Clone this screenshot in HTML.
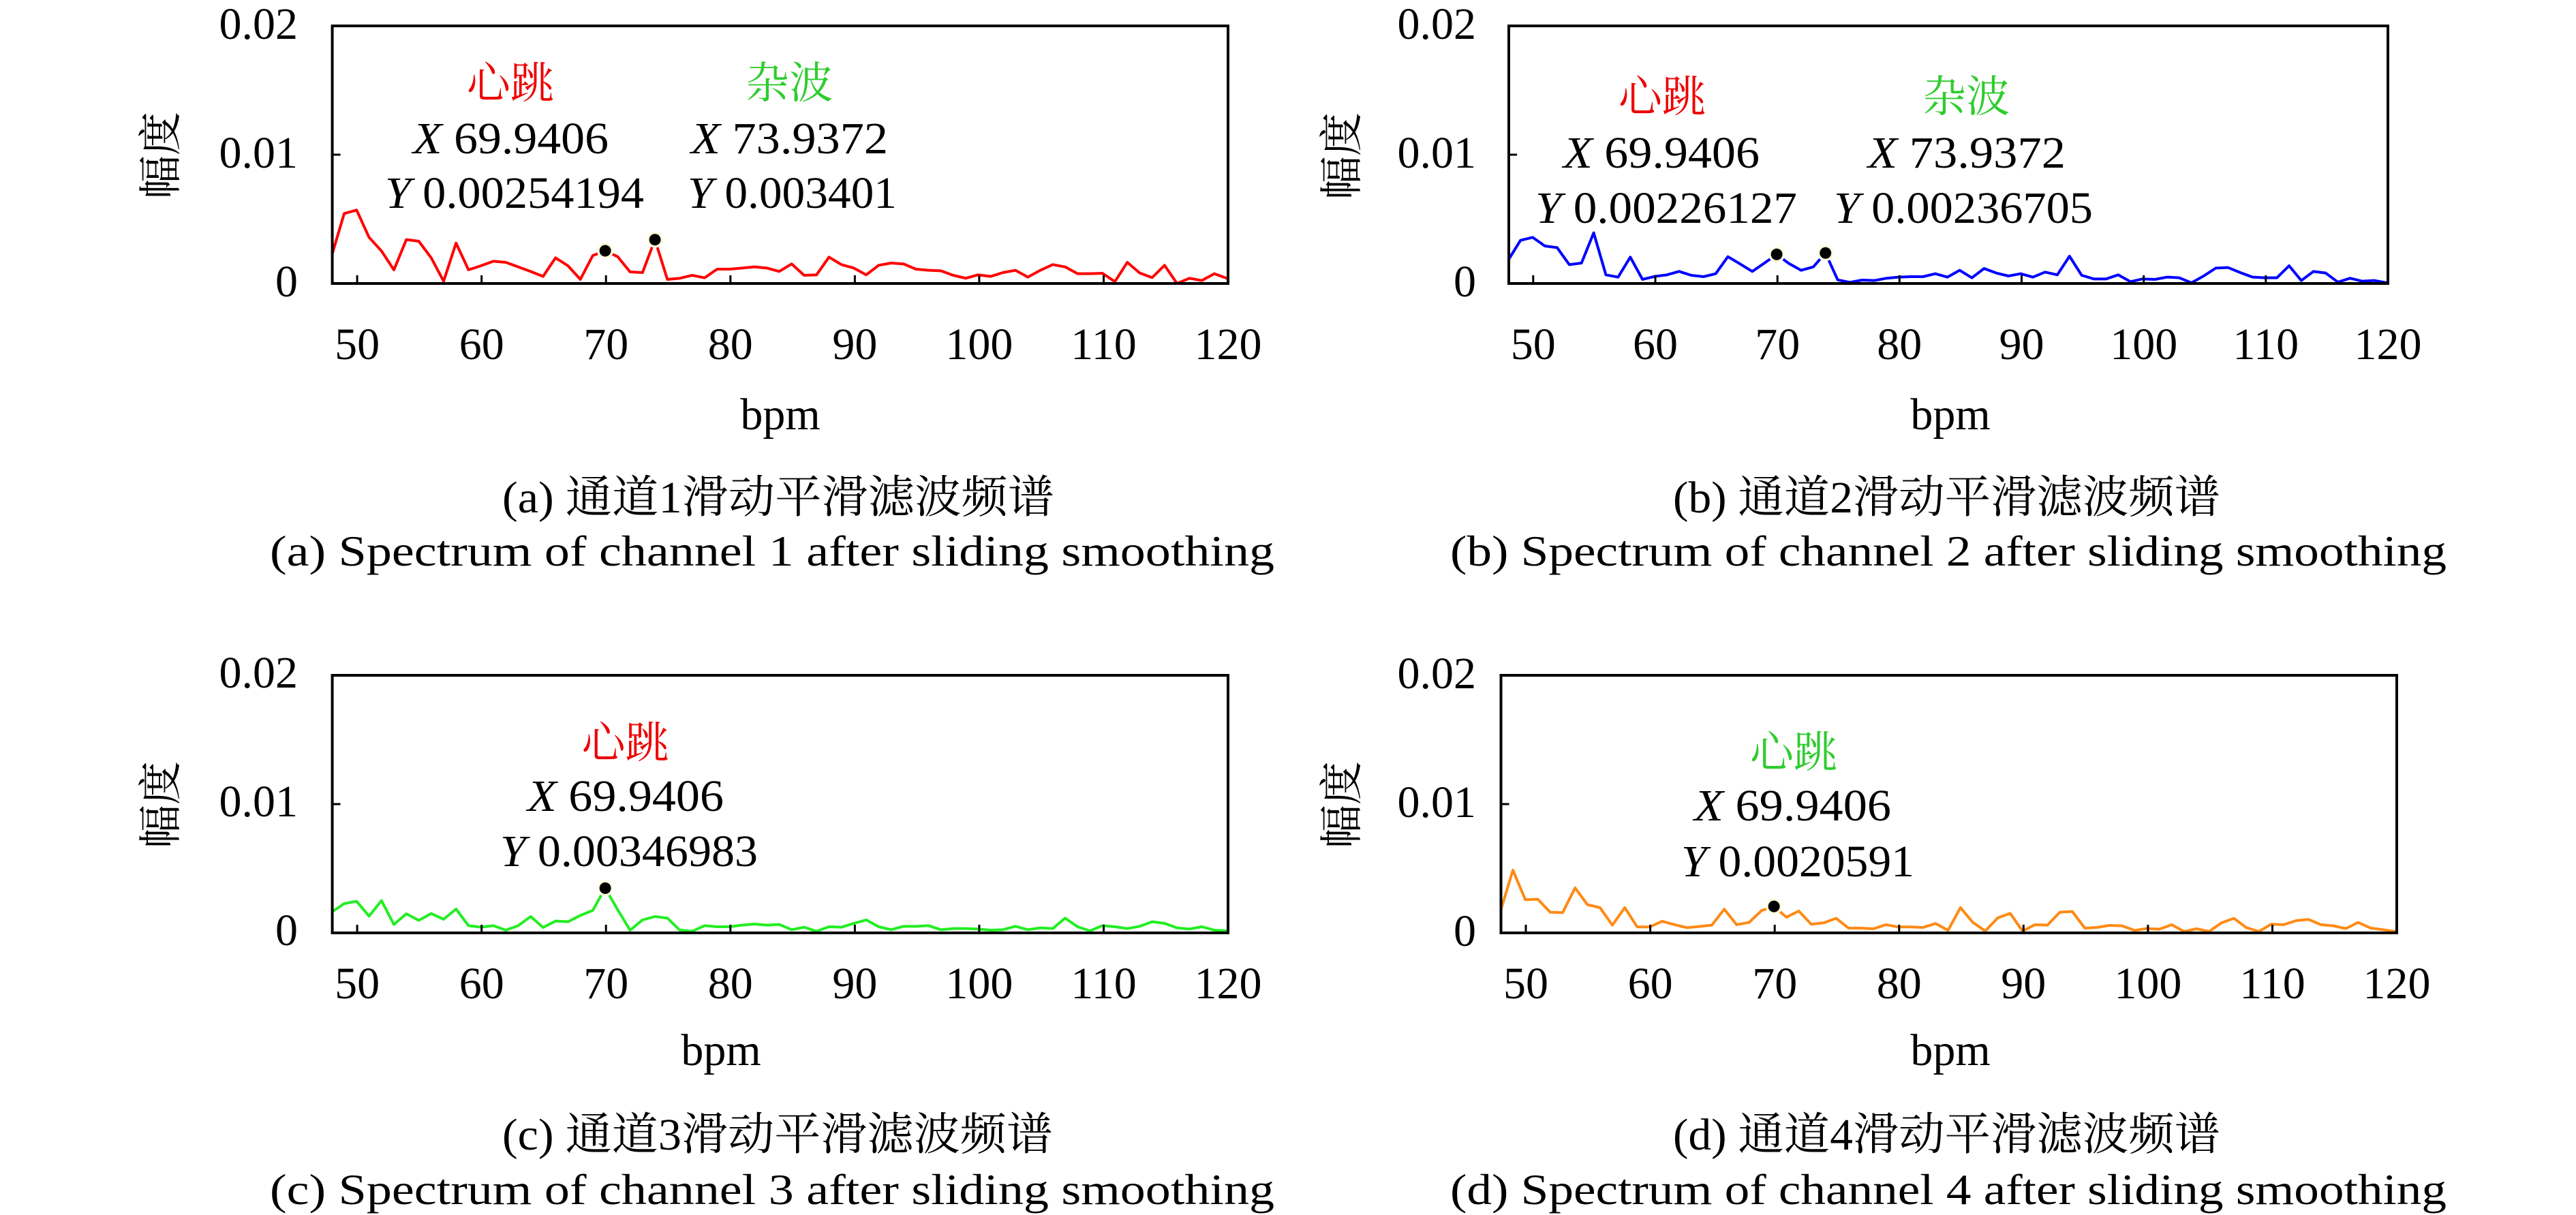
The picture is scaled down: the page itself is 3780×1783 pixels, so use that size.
<!DOCTYPE html>
<html>
<head>
<meta charset="utf-8">
<style>
html,body{margin:0;padding:0;background:#fff;}
svg{display:block;}
text{font-family:"Liberation Serif","Noto Serif CJK SC",serif;}
.tk{font-size:66px;fill:#000;}
.an{font-size:66px;fill:#000;}
.cj{font-size:64px;}
.cap{fill:#000;}
</style>
</head>
<body>
<svg xmlns="http://www.w3.org/2000/svg" width="3780" height="1783" viewBox="0 0 3780 1783">
<rect x="0" y="0" width="3780" height="1783" fill="#fff"/>
<defs>
  <clipPath id="ca" clipPathUnits="userSpaceOnUse"><rect x="487.6" y="38" width="1314.4" height="378"/></clipPath>
  <clipPath id="cb" clipPathUnits="userSpaceOnUse"><rect x="2214" y="38" width="1290" height="378"/></clipPath>
  <clipPath id="cc" clipPathUnits="userSpaceOnUse"><rect x="487.6" y="991" width="1314.4" height="378"/></clipPath>
  <clipPath id="cd" clipPathUnits="userSpaceOnUse"><rect x="2202.5" y="991" width="1314.5" height="378"/></clipPath>
</defs>

<!-- ================= (a) ================= -->
<g>
  <g clip-path="url(#ca)">
    <polyline fill="none" stroke="#ff0000" stroke-width="4" stroke-linejoin="round" vector-effect="non-scaling-stroke"
      transform="translate(888.1,280) scale(18.24,0.333333)"
      points="-22,285 -21,100 -20,85 -19,205 -18,265 -17,348 -16,215 -15,222 -14,295 -13,398 -12,230 -11,348 -10,330 -9,310 -8,315 -7,335 -6,355 -5,377 -4,295 -3,330 -2,390 -1,285 0,264 1,290 2,357 3,360 4,215 5,390 6,385 7,372 8,383 9,345 10,345 11,340 12,335 13,340 14,355 15,322 16,372 17,370 18,292 19,325 20,340 21,370 22,328 23,318 24,322 25,345 26,350 27,352 28,372 29,385 30,370 31,377 32,360 33,350 34,380 35,350 36,325 37,335 38,365 39,365 40,363 41,400 42,315 43,362 44,382 45,328 46,408 47,385 48,395 49,365 50,385 51,395"/>
  </g>
  <rect x="487.6" y="38" width="1314.4" height="378" fill="none" stroke="#000" stroke-width="4"/>
  <g stroke="#000" stroke-width="3">
    <line x1="524.1" y1="416" x2="524.1" y2="404"/>
    <line x1="706.7" y1="416" x2="706.7" y2="404"/>
    <line x1="889.2" y1="416" x2="889.2" y2="404"/>
    <line x1="1071.8" y1="416" x2="1071.8" y2="404"/>
    <line x1="1254.4" y1="416" x2="1254.4" y2="404"/>
    <line x1="1436.9" y1="416" x2="1436.9" y2="404"/>
    <line x1="1619.5" y1="416" x2="1619.5" y2="404"/>
    <line x1="487.6" y1="227" x2="499.6" y2="227"/>
  </g>
  <circle cx="888.1" cy="368" r="12" fill="#fffbe0"/>
  <circle cx="888.1" cy="368" r="8.5" fill="#000"/>
  <circle cx="961.1" cy="351.7" r="12" fill="#fffbe0"/>
  <circle cx="961.1" cy="351.7" r="8.5" fill="#000"/>
  <g class="tk" text-anchor="middle">
    <text x="524.1" y="527">50</text>
    <text x="706.7" y="527">60</text>
    <text x="889.2" y="527">70</text>
    <text x="1071.8" y="527">80</text>
    <text x="1254.4" y="527">90</text>
    <text x="1436.9" y="527">100</text>
    <text x="1619.5" y="527">110</text>
    <text x="1802" y="527">120</text>
  </g>
  <g class="tk" text-anchor="end">
    <text x="437" y="57">0.02</text>
    <text x="437" y="246">0.01</text>
    <text x="437" y="435">0</text>
  </g>
  <text class="cj" transform="translate(258,228) rotate(-90)" text-anchor="middle" font-size="64" fill="#000">幅度</text>
  <text class="tk" x="1145" y="630" text-anchor="middle">bpm</text>
  <text class="cj" x="749" y="144" text-anchor="middle" fill="#ee0000">心跳</text>
  <text class="cj" x="1158" y="144" text-anchor="middle" fill="#2ecc2e">杂波</text>
  <text class="an" x="606" y="225" textLength="287" lengthAdjust="spacingAndGlyphs"><tspan font-style="italic">X</tspan> 69.9406</text>
  <text class="an" x="1014" y="225" textLength="289" lengthAdjust="spacingAndGlyphs"><tspan font-style="italic">X</tspan> 73.9372</text>
  <text class="an" x="565" y="305" textLength="380" lengthAdjust="spacingAndGlyphs"><tspan font-style="italic">Y</tspan> 0.00254194</text>
  <text class="an" x="1009" y="305" textLength="307" lengthAdjust="spacingAndGlyphs"><tspan font-style="italic">Y</tspan> 0.003401</text>
</g>

<!-- ================= (b) ================= -->
<g>
  <g clip-path="url(#cb)">
    <polyline fill="none" stroke="#0000ff" stroke-width="4" stroke-linejoin="round" vector-effect="non-scaling-stroke"
      transform="translate(2607.1,280) scale(17.902,0.333333)"
      points="-22,305 -21,218 -20,205 -19,243 -18,250 -17,325 -16,318 -15,185 -14,370 -13,380 -12,292 -11,390 -10,377 -9,370 -8,355 -7,372 -6,378 -5,365 -4,290 -3,322 -2,355 -1,318 0,280 1,320 2,350 3,335 4,274 5,392 6,403 7,393 8,395 9,385 10,380 11,378 12,378 13,365 14,380 15,350 16,383 17,342 18,362 19,375 20,365 21,380 22,358 23,370 24,288 25,372 26,388 27,388 28,370 29,400 30,388 31,390 32,380 33,383 34,405 35,375 36,340 37,338 38,360 39,380 40,383 41,383 42,330 43,395 44,355 45,362 46,402 47,385 48,398 49,395 50,405 51,405"/>
  </g>
  <rect x="2214" y="38" width="1290" height="378" fill="none" stroke="#000" stroke-width="4"/>
  <g stroke="#000" stroke-width="3">
    <line x1="2249.8" y1="416" x2="2249.8" y2="404"/>
    <line x1="2429" y1="416" x2="2429" y2="404"/>
    <line x1="2608.2" y1="416" x2="2608.2" y2="404"/>
    <line x1="2787.3" y1="416" x2="2787.3" y2="404"/>
    <line x1="2966.5" y1="416" x2="2966.5" y2="404"/>
    <line x1="3145.7" y1="416" x2="3145.7" y2="404"/>
    <line x1="3324.8" y1="416" x2="3324.8" y2="404"/>
    <line x1="2214" y1="227" x2="2226" y2="227"/>
  </g>
  <circle cx="2607.1" cy="373.3" r="12" fill="#fffbe0"/>
  <circle cx="2607.1" cy="373.3" r="8.5" fill="#000"/>
  <circle cx="2678.7" cy="371.3" r="12" fill="#fffbe0"/>
  <circle cx="2678.7" cy="371.3" r="8.5" fill="#000"/>
  <g class="tk" text-anchor="middle">
    <text x="2249.8" y="527">50</text>
    <text x="2429" y="527">60</text>
    <text x="2608.2" y="527">70</text>
    <text x="2787.3" y="527">80</text>
    <text x="2966.5" y="527">90</text>
    <text x="3145.7" y="527">100</text>
    <text x="3324.8" y="527">110</text>
    <text x="3504" y="527">120</text>
  </g>
  <g class="tk" text-anchor="end">
    <text x="2166" y="57">0.02</text>
    <text x="2166" y="246">0.01</text>
    <text x="2166" y="435">0</text>
  </g>
  <text class="cj" transform="translate(1991,229) rotate(-90)" text-anchor="middle" fill="#000">幅度</text>
  <text class="tk" x="2862" y="630" text-anchor="middle">bpm</text>
  <text class="cj" x="2439" y="164" text-anchor="middle" fill="#ee0000">心跳</text>
  <text class="cj" x="2885" y="164" text-anchor="middle" fill="#2ecc2e">杂波</text>
  <text class="an" x="2294" y="246" textLength="288" lengthAdjust="spacingAndGlyphs"><tspan font-style="italic">X</tspan> 69.9406</text>
  <text class="an" x="2741" y="246" textLength="290" lengthAdjust="spacingAndGlyphs"><tspan font-style="italic">X</tspan> 73.9372</text>
  <text class="an" x="2253" y="327" textLength="384" lengthAdjust="spacingAndGlyphs"><tspan font-style="italic">Y</tspan> 0.00226127</text>
  <text class="an" x="2691" y="327" textLength="380" lengthAdjust="spacingAndGlyphs"><tspan font-style="italic">Y</tspan> 0.00236705</text>
</g>

<!-- ================= (c) ================= -->
<g>
  <g clip-path="url(#cc)">
    <polyline fill="none" stroke="#22ee22" stroke-width="4" stroke-linejoin="round" vector-effect="non-scaling-stroke"
      transform="translate(888.1,1230) scale(18.24,0.333333)"
      points="-22,325 -21,288 -20,278 -19,343 -18,275 -17,380 -16,333 -15,362 -14,332 -13,357 -12,312 -11,385 -10,392 -9,385 -8,405 -7,385 -6,345 -5,393 -4,365 -3,368 -2,340 -1,318 0,220 1,315 2,405 3,360 4,345 5,352 6,405 7,410 8,385 9,390 10,390 11,383 12,378 13,383 14,380 15,403 16,392 17,410 18,390 19,392 20,375 21,360 22,390 23,403 24,388 25,388 26,385 27,403 28,398 29,398 30,400 31,405 32,403 33,388 34,403 35,395 36,398 37,352 38,390 39,408 40,385 41,390 42,398 43,388 44,368 45,375 46,395 47,400 48,390 49,405 50,408 51,408"/>
  </g>
  <rect x="487.6" y="991" width="1314.4" height="378" fill="none" stroke="#000" stroke-width="4"/>
  <g stroke="#000" stroke-width="3">
    <line x1="524.1" y1="1369" x2="524.1" y2="1357"/>
    <line x1="706.7" y1="1369" x2="706.7" y2="1357"/>
    <line x1="889.2" y1="1369" x2="889.2" y2="1357"/>
    <line x1="1071.8" y1="1369" x2="1071.8" y2="1357"/>
    <line x1="1254.4" y1="1369" x2="1254.4" y2="1357"/>
    <line x1="1436.9" y1="1369" x2="1436.9" y2="1357"/>
    <line x1="1619.5" y1="1369" x2="1619.5" y2="1357"/>
    <line x1="487.6" y1="1180" x2="499.6" y2="1180"/>
  </g>
  <circle cx="888.1" cy="1303.4" r="12" fill="#fffbe0"/>
  <circle cx="888.1" cy="1303.4" r="8.5" fill="#000"/>
  <g class="tk" text-anchor="middle">
    <text x="524.1" y="1465">50</text>
    <text x="706.7" y="1465">60</text>
    <text x="889.2" y="1465">70</text>
    <text x="1071.8" y="1465">80</text>
    <text x="1254.4" y="1465">90</text>
    <text x="1436.9" y="1465">100</text>
    <text x="1619.5" y="1465">110</text>
    <text x="1802" y="1465">120</text>
  </g>
  <g class="tk" text-anchor="end">
    <text x="437" y="1009">0.02</text>
    <text x="437" y="1198">0.01</text>
    <text x="437" y="1387">0</text>
  </g>
  <text class="cj" transform="translate(258,1181) rotate(-90)" text-anchor="middle" fill="#000">幅度</text>
  <text class="tk" x="1058" y="1563" text-anchor="middle">bpm</text>
  <text class="cj" x="917.6" y="1112" text-anchor="middle" fill="#ee0000">心跳</text>
  <text class="an" x="774" y="1190" textLength="288" lengthAdjust="spacingAndGlyphs"><tspan font-style="italic">X</tspan> 69.9406</text>
  <text class="an" x="734" y="1271" textLength="378" lengthAdjust="spacingAndGlyphs"><tspan font-style="italic">Y</tspan> 0.00346983</text>
</g>

<!-- ================= (d) ================= -->
<g>
  <g clip-path="url(#cd)">
    <polyline fill="none" stroke="#ff8a14" stroke-width="4" stroke-linejoin="round" vector-effect="non-scaling-stroke"
      transform="translate(2603.1,1230.3) scale(18.241,0.333333)"
      points="-22,320 -21,140 -20,270 -19,268 -18,325 -17,327 -16,218 -15,292 -14,305 -13,382 -12,305 -11,390 -10,390 -9,365 -8,380 -7,393 -6,388 -5,382 -4,312 -3,380 -2,370 -1,318 0,299 1,347 2,320 3,378 4,372 5,352 6,395 7,395 8,398 9,380 10,390 11,390 12,392 13,375 14,405 15,305 16,370 17,408 18,350 19,330 20,408 21,380 22,382 23,325 24,322 25,395 26,392 27,383 28,385 29,405 30,397 31,400 32,380 33,410 34,398 35,410 36,372 37,352 38,393 39,410 40,378 41,380 42,362 43,357 44,380 45,385 46,397 47,370 48,395 49,402 50,410 51,414"/>
  </g>
  <rect x="2202.5" y="991" width="1314.5" height="378" fill="none" stroke="#000" stroke-width="4"/>
  <g stroke="#000" stroke-width="3">
    <line x1="2239" y1="1369" x2="2239" y2="1357"/>
    <line x1="2421.6" y1="1369" x2="2421.6" y2="1357"/>
    <line x1="2604.2" y1="1369" x2="2604.2" y2="1357"/>
    <line x1="2786.8" y1="1369" x2="2786.8" y2="1357"/>
    <line x1="2969.3" y1="1369" x2="2969.3" y2="1357"/>
    <line x1="3151.9" y1="1369" x2="3151.9" y2="1357"/>
    <line x1="3334.5" y1="1369" x2="3334.5" y2="1357"/>
    <line x1="2202.5" y1="1180" x2="2214.5" y2="1180"/>
  </g>
  <circle cx="2603.1" cy="1330.1" r="12" fill="#fffbe0"/>
  <circle cx="2603.1" cy="1330.1" r="8.5" fill="#000"/>
  <g class="tk" text-anchor="middle">
    <text x="2239" y="1465">50</text>
    <text x="2421.6" y="1465">60</text>
    <text x="2604.2" y="1465">70</text>
    <text x="2786.8" y="1465">80</text>
    <text x="2969.3" y="1465">90</text>
    <text x="3151.9" y="1465">100</text>
    <text x="3334.5" y="1465">110</text>
    <text x="3517" y="1465">120</text>
  </g>
  <g class="tk" text-anchor="end">
    <text x="2166" y="1010">0.02</text>
    <text x="2166" y="1199">0.01</text>
    <text x="2166" y="1388">0</text>
  </g>
  <text class="cj" transform="translate(1991,1181) rotate(-90)" text-anchor="middle" fill="#000">幅度</text>
  <text class="tk" x="2862" y="1563" text-anchor="middle">bpm</text>
  <text class="cj" x="2632" y="1126" text-anchor="middle" fill="#2ecc2e">心跳</text>
  <text class="an" x="2486" y="1204" textLength="289" lengthAdjust="spacingAndGlyphs"><tspan font-style="italic">X</tspan> 69.9406</text>
  <text class="an" x="2467" y="1286" textLength="342" lengthAdjust="spacingAndGlyphs"><tspan font-style="italic">Y</tspan> 0.0020591</text>
</g>

<!-- ================= captions ================= -->
<g class="cap">
  <text x="737" y="752" font-size="66" textLength="810" lengthAdjust="spacingAndGlyphs">(a) 通道1滑动平滑滤波频谱</text>
  <text x="396" y="830" font-size="64" textLength="1474" lengthAdjust="spacingAndGlyphs">(a) Spectrum of channel 1 after sliding smoothing</text>
  <text x="2455" y="752" font-size="66" textLength="803" lengthAdjust="spacingAndGlyphs">(b) 通道2滑动平滑滤波频谱</text>
  <text x="2128" y="830" font-size="64" textLength="1462" lengthAdjust="spacingAndGlyphs">(b) Spectrum of channel 2 after sliding smoothing</text>
  <text x="737" y="1687" font-size="66" textLength="808" lengthAdjust="spacingAndGlyphs">(c) 通道3滑动平滑滤波频谱</text>
  <text x="396" y="1767" font-size="64" textLength="1474" lengthAdjust="spacingAndGlyphs">(c) Spectrum of channel 3 after sliding smoothing</text>
  <text x="2455" y="1687" font-size="66" textLength="803" lengthAdjust="spacingAndGlyphs">(d) 通道4滑动平滑滤波频谱</text>
  <text x="2128" y="1767" font-size="64" textLength="1462" lengthAdjust="spacingAndGlyphs">(d) Spectrum of channel 4 after sliding smoothing</text>
</g>
</svg>
</body>
</html>
